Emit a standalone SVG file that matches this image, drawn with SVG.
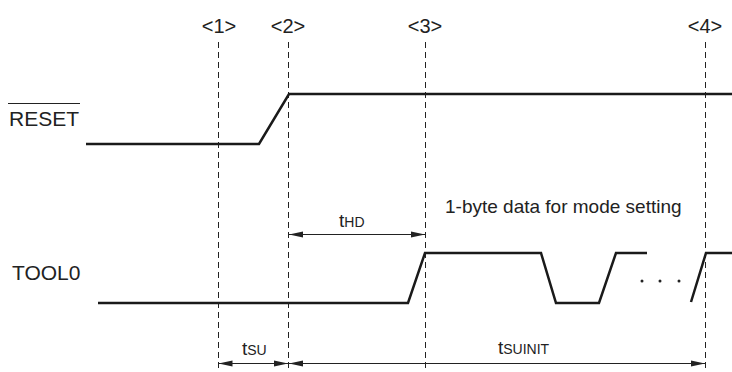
<svg xmlns="http://www.w3.org/2000/svg" width="732" height="372" viewBox="0 0 732 372">
<style>
text { font-family: "Liberation Sans", Arial, sans-serif; fill: #222; }
.sig { fill: none; stroke: #1a1a1a; stroke-width: 2.5; stroke-linejoin: miter; }
.dash { stroke: #222; stroke-width: 1; stroke-dasharray: 6 4; fill: none; }
.dim { stroke: #222; stroke-width: 1; fill: none; }
.mk { font-size: 20px; text-anchor: middle; }
.lbl { font-size: 21px; }
.t { font-size: 19px; }
.sub { font-size: 14px; }
</style>
<defs>
<marker id="ah" markerUnits="userSpaceOnUse" markerWidth="15" markerHeight="8" refX="14" refY="4" orient="auto-start-reverse">
<path d="M0,1 L14,4 L0,7 Z" fill="#222"/>
</marker>
</defs>
<g id="markers">
<line class="dash" x1="218.5" y1="42" x2="218.5" y2="372"/>
<line class="dash" x1="288.5" y1="42" x2="288.5" y2="372"/>
<line class="dash" x1="425.5" y1="42" x2="425.5" y2="372"/>
<line class="dash" x1="705.5" y1="42" x2="705.5" y2="372"/>
<text class="mk" x="219" y="33">&lt;1&gt;</text>
<text class="mk" x="288" y="33">&lt;2&gt;</text>
<text class="mk" x="425" y="33">&lt;3&gt;</text>
<text class="mk" x="705" y="33">&lt;4&gt;</text>
</g>
<g id="reset">
<text class="lbl" x="9" y="126">RESET</text>
<line x1="8" y1="103.5" x2="80" y2="103.5" stroke="#222" stroke-width="1"/>
<polyline class="sig" points="86,144 259,144 289,94 732,94"/>
</g>
<g id="tool0">
<text class="lbl" x="12" y="280">TOOL0</text>
<polyline class="sig" points="98,303 408,303 425,253 541,253 556,303 599,303 616,253 647,253"/>
<polyline class="sig" points="691,302 706,253 732,253"/>
<circle cx="642" cy="281" r="1.5" fill="#222"/>
<circle cx="660" cy="281" r="1.5" fill="#222"/>
<circle cx="679" cy="281" r="1.5" fill="#222"/>
<text x="445" y="213" style="font-size:19px">1-byte data for mode setting</text>
</g>
<g id="connectors">
<line class="dim" x1="289" y1="234.5" x2="425" y2="234.5" marker-start="url(#ah)" marker-end="url(#ah)"/>
<line class="dim" x1="218.5" y1="363.5" x2="288" y2="363.5" marker-start="url(#ah)" marker-end="url(#ah)"/>
<line class="dim" x1="289" y1="363.5" x2="705" y2="363.5" marker-start="url(#ah)" marker-end="url(#ah)"/>
</g>
<g id="timing-labels">
<text class="t" x="339" y="227">t<tspan class="sub">HD</tspan></text>
<text class="t" x="242" y="355">t<tspan class="sub">SU</tspan></text>
<text class="t" x="498" y="354">t<tspan class="sub">SUINIT</tspan></text>
</g>
</svg>
